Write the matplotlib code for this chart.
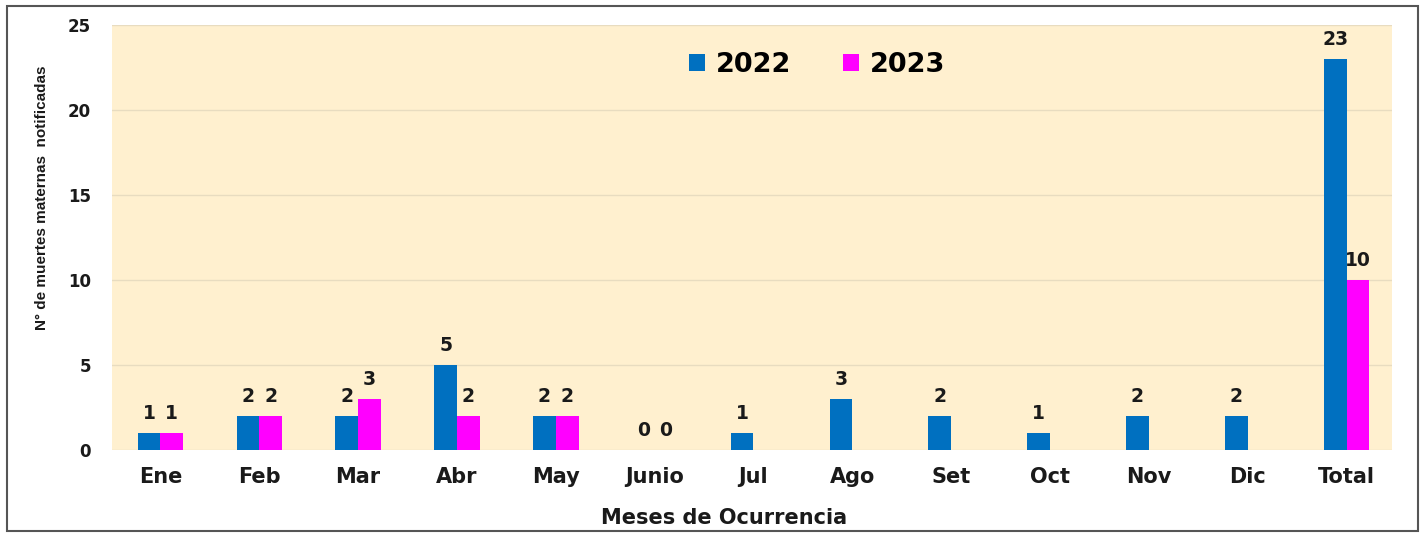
import numpy as np
import matplotlib.pyplot as plt
import matplotlib.patches as mpatches

plt.rcParams['font.family'] = ['DejaVu Sans']

# data
meses = ["Ene", "Feb", "Mar", "Abr", "May", "Junio", "Jul", "Ago", "Set", "Oct", "Nov", "Dic", "Total"]
casos_2022 = [1, 2, 2, 5, 2, 0, 1, 3, 2, 1, 2, 2, 23]
casos_2023 = [1, 2, 3, 2, 2, 0, None, None, None, None, None, None, 10]

x = np.arange(len(meses))
width = 0.23

fig = plt.figure(figsize=(14.25, 5.37), dpi=100)
ax = fig.add_axes([112 / 1425, 1 - 450 / 537, 1280 / 1425, 425 / 537])

# outer frame
fig.patches.append(mpatches.Rectangle((7 / 1425, 6 / 537), 1411 / 1425, 525 / 537,
                                      transform=fig.transFigure, fill=False,
                                      edgecolor="#555555", linewidth=1.5))

ax.set_facecolor("#FFF0CF")
ax.set_axisbelow(True)
ax.grid(axis="y", color="#E8DCC0", linewidth=1)

v22 = np.array(casos_2022, dtype=float)
v23 = np.array([np.nan if v is None else v for v in casos_2023], dtype=float)

b1 = ax.bar(x - width / 2, v22, width=width, color="#0070C0", label="2022")
b2 = ax.bar(x + width / 2, np.nan_to_num(v23), width=width, color="#FF00FF", label="2023")

for xi, v in zip(x, v22):
    ax.text(xi - width / 2, v + 0.6, f"{int(v)}", ha="center", va="bottom",
            fontsize=13.5, fontweight="bold", color="#1a1a1a")
for xi, v in zip(x, v23):
    if np.isnan(v):
        continue
    ax.text(xi + width / 2, v + 0.6, f"{int(v)}", ha="center", va="bottom",
            fontsize=13.5, fontweight="bold", color="#1a1a1a")

ax.set_xlim(-0.49, 12.46)
ax.set_ylim(0, 25)
ax.set_yticks([0, 5, 10, 15, 20, 25])
ax.set_xticks(x, meses)
ax.tick_params(axis="both", length=0)
ax.tick_params(axis="x", pad=12, labelsize=15)
ax.tick_params(axis="y", pad=15, labelsize=12)
for lab in ax.get_xticklabels() + ax.get_yticklabels():
    lab.set_fontweight("bold")
    lab.set_color("#1a1a1a")
for s in ax.spines.values():
    s.set_visible(False)

fig.text(724 / 1425, 1 - 518 / 537, "Meses de Ocurrencia", ha="center", va="center",
         fontsize=15, fontweight="bold", color="#1a1a1a")
fig.text(42 / 1425, 1 - 198 / 537, "N° de muertes maternas  notificadas", ha="center", va="center",
         rotation=90, fontsize=11, fontweight="bold", color="#1a1a1a",
         family=["Liberation Sans", "DejaVu Sans"])

leg = ax.legend(loc="center", bbox_to_anchor=(0.551, 0.905), ncol=2, frameon=False,
                prop={"weight": "bold", "size": 19.5}, handlelength=0.6, handleheight=0.6,
                handletextpad=0.4, columnspacing=1.9)

plt.savefig("out.png", dpi=100)
